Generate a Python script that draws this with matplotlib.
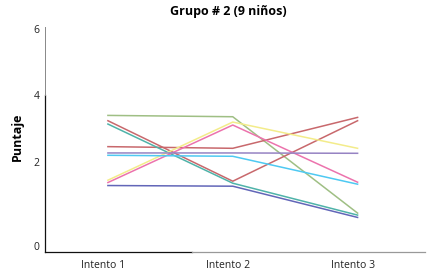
import numpy as np
import matplotlib
matplotlib.use('Agg')
import matplotlib.pyplot as plt

plt.rcParams['font.family'] = ['Open Sans', 'DejaVu Sans']

intentos = ['Intento 1', 'Intento 2', 'Intento 3']

# puntajes de cada nino
verde = [3.39, 3.35, 0.45]
rojo_a = [3.23, 1.41, 3.23]
rojo_b = [2.45, 2.40, 3.33]
turquesa = [3.13, 1.35, 0.39]
amarillo = [1.44, 3.19, 2.40]
rosa = [1.37, 3.10, 1.38]
morado = [2.26, 2.26, 2.25]
celeste = [2.19, 2.16, 1.32]
azul = [1.28, 1.26, 0.32]

series = [verde, rojo_a, rojo_b, turquesa, amarillo, rosa, morado, celeste, azul]
colores = ['#9fbf84', '#c8686c', '#c8686c', '#4fb3a9', '#f3ec8a',
           '#ec73ad', '#9683c3', '#4ec9f2', '#6266b8']

ytick_vals = [-0.54, 2, 4, 6]
ytick_labels = ['0', '2', '4', '6']

fig = plt.figure(figsize=(4.37, 2.77), dpi=100)
ax = fig.add_axes([45/437, 25/277, 380/437, 225/277])

x = np.arange(len(intentos))
for s, c in zip(series, colores):
    ax.plot(x, s, color=c, lw=1.1)

ax.set_xlim(-0.504, 2.54)
ax.set_ylim(-0.72, 6.05)
ax.set_xticks(x - 0.04)
ax.set_xticklabels(intentos, fontsize=7.5)
ax.set_yticks(ytick_vals)
ax.set_yticklabels(ytick_labels, fontsize=7.5)
ax.tick_params(length=0, pad=4, colors='#222222')
ax.tick_params(axis='x', pad=6)

for sp in ax.spines.values():
    sp.set_visible(False)
ax.axhline(-0.72, xmin=0, xmax=0.387, color='#111111', lw=0.9, clip_on=False)
ax.axhline(-0.72, xmin=0.387, xmax=1, color='#999999', lw=0.9, clip_on=False)
ax.axvline(-0.504, ymin=0, ymax=0.698, color='#111111', lw=0.9, clip_on=False)
ax.axvline(-0.504, ymin=0.698, ymax=1, color='#888888', lw=0.7, clip_on=False)

fig.text(228/437, 1 - 11/277, 'Grupo # 2 (9 niños)', ha='center', va='center',
         fontsize=9, fontweight='bold')
fig.text(17/437, 1 - 137/277, 'Puntaje', ha='center', va='center',
         rotation=90, fontsize=9, fontweight='bold')

fig.savefig('out.png', dpi=100)
